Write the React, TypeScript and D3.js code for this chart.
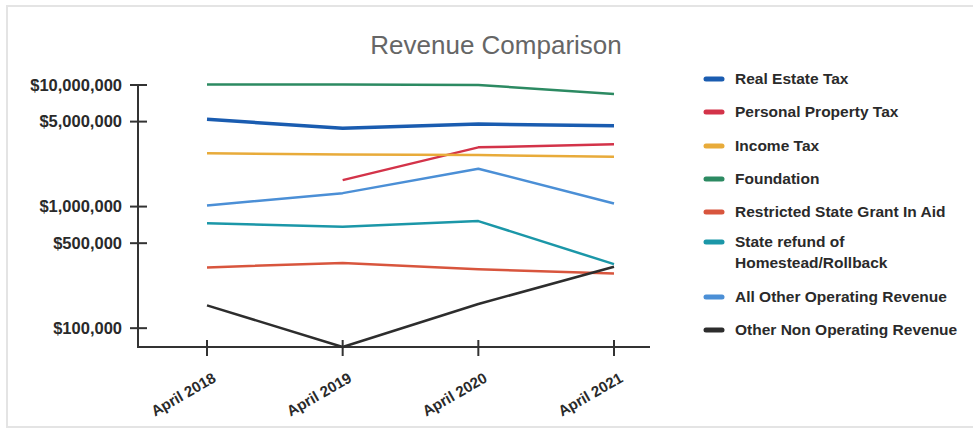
import React from "react";
import * as d3 from "d3";

const categories = ["April 2018", "April 2019", "April 2020", "April 2021"];
const yTicks = [100000, 500000, 1000000, 5000000, 10000000];

const seriesNames = [
  "Real Estate Tax",
  "Personal Property Tax",
  "Income Tax",
  "Foundation",
  "Restricted State Grant In Aid",
  "State refund of Homestead/Rollback",
  "All Other Operating Revenue",
  "Other Non Operating Revenue",
];
const seriesColors = ["#1a5cb0", "#d33349", "#e8ab3a", "#2c8a62", "#d8553d", "#1b97a8", "#4b8fd6", "#2d2d2d"];

const realEstate = [5220000, 4400000, 4770000, 4630000];
const personalProperty = [null, 1650000, 3070000, 3250000];
const incomeTax = [2740000, 2680000, 2650000, 2570000];
const foundation = [10100000, 10100000, 10000000, 8430000];
const restrictedGrant = [316000, 344000, 305000, 282000];
const stateRefund = [728000, 682000, 760000, 336000];
const allOtherOperating = [1020000, 1290000, 2050000, 1060000];
const otherNonOperating = [154000, 70000, 158000, 320000];

const seriesValues: (number | null)[][] = [
  realEstate,
  personalProperty,
  incomeTax,
  foundation,
  restrictedGrant,
  stateRefund,
  allOtherOperating,
  otherNonOperating,
];

export default function App() {
  const W = 973;
  const H = 430;
  const x = d3.scalePoint<string>().domain(categories).range([207, 614]);
  const y = d3.scaleLog().domain([70000, 10000000]).range([347, 85]);
  const line = d3
    .line<number | null>()
    .defined((d) => d !== null)
    .x((_, i) => x(categories[i]) as number)
    .y((d) => y(d as number));
  const fmt = (v: number) => "$" + d3.format(",")(v);
  const font = "'Liberation Sans', Arial, sans-serif";

  const legendRows = [79, 112, 146, 179, 212, 242, 297, 330];

  return (
    <svg
      width={W}
      height={H}
      style={{ position: "absolute", left: 0, top: 0, background: "#fff" }}
      fontFamily={font}
    >
      <rect x={7} y={6} width={980} height={421} fill="none" stroke="#e4e4e4" strokeWidth={2} />
      <text x={496} y={54} textAnchor="middle" fontSize={26} fill="#666">
        Revenue Comparison
      </text>

      {/* y axis */}
      <line x1={138} x2={138} y1={85} y2={348} stroke="#333" strokeWidth={2} />
      {yTicks.map((t) => (
        <g key={t}>
          <line x1={130} x2={147} y1={y(t)} y2={y(t)} stroke="#333" strokeWidth={2} />
          <text x={122} y={y(t)} dy="0.35em" textAnchor="end" fontSize={16.5} fontWeight="bold" fill="#2a2a2a">
            {fmt(t)}
          </text>
        </g>
      ))}

      {/* x axis */}
      <line x1={137} x2={650} y1={347} y2={347} stroke="#333" strokeWidth={2} />
      {categories.map((c) => (
        <g key={c}>
          <line x1={x(c)} x2={x(c)} y1={340} y2={356} stroke="#333" strokeWidth={2} />
          <text
            transform={`translate(${(x(c) as number) + 10},${381}) rotate(-30)`}
            textAnchor="end"
            fontSize={15}
            fontWeight="bold"
            fill="#2a2a2a"
          >
            {c}
          </text>
        </g>
      ))}

      {/* series */}
      {seriesValues.map((vals, i) => (
        <path
          key={seriesNames[i]}
          d={line(vals) || ""}
          fill="none"
          stroke={seriesColors[i]}
          strokeWidth={i === 0 ? 3.5 : 2.5}
          strokeLinejoin="round"
        />
      ))}

      {/* legend */}
      {seriesNames.map((n, i) => {
        const yy = legendRows[i];
        const multi = n === "State refund of Homestead/Rollback";
        return (
          <g key={n}>
            <line x1={706} x2={722} y1={yy} y2={yy} stroke={seriesColors[i]} strokeWidth={5} strokeLinecap="round" />
            {multi ? (
              <text x={735} y={yy} dy="0.35em" fontSize={15.5} fontWeight="bold" fill="#2a2a2a">
                <tspan x={735}>State refund of</tspan>
                <tspan x={735} dy={21}>Homestead/Rollback</tspan>
              </text>
            ) : (
              <text x={735} y={yy} dy="0.35em" fontSize={15.5} fontWeight="bold" fill="#2a2a2a">
                {n}
              </text>
            )}
          </g>
        );
      })}
    </svg>
  );
}
